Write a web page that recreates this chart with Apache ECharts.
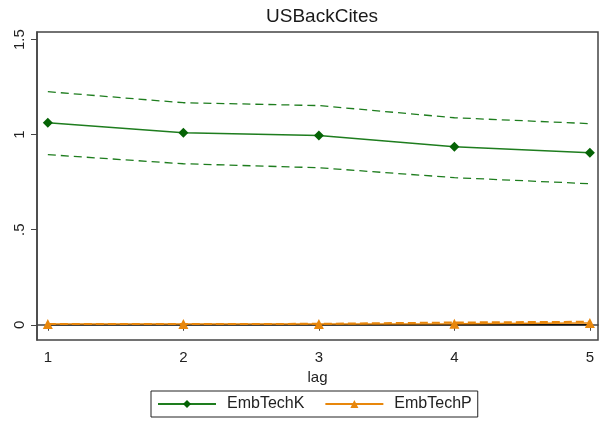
<!DOCTYPE html>
<html>
<head>
<meta charset="utf-8">
<script src="https://cdn.jsdelivr.net/npm/echarts@6/dist/echarts.min.js"></script>
<style>
  html, body { margin: 0; padding: 0; background: #fff; }
  #chart { width: 605px; height: 426px; }
</style>
</head>
<body>
<div id="chart"></div>
<script>
// Lags on the x axis
const lags = [1, 2, 3, 4, 5];

// EmbTechK estimate with its confidence band
const embTechK = [1.063, 1.010, 0.995, 0.937, 0.905];
const embTechKUpper = [1.226, 1.168, 1.153, 1.089, 1.058];
const embTechKLower = [0.895, 0.847, 0.826, 0.774, 0.742];

// EmbTechP estimate with its upper band
const embTechP = [0.004, 0.004, 0.004, 0.005, 0.010];
const embTechPUpper = [0.004, 0.004, 0.005, 0.012, 0.016];

// Reference line at zero
const zeroLine = [0, 0, 0, 0, 0];

// Tick labels
const yTicks = [0, 0.5, 1, 1.5];
const yTickLabels = ['0', '.5', '1', '1.5'];

const pair = arr => lags.map((x, i) => [x, arr[i]]);

const green = '#1e7d1e';
const greenDark = '#056305';
const orange = '#e8870c';
const font = 'Liberation Sans, Arial, sans-serif';

const chart = echarts.init(document.getElementById('chart'), null, { renderer: 'canvas' });
chart.setOption({
  animation: false,
  backgroundColor: '#fff',
  title: {
    text: 'USBackCites',
    left: 317, top: 2,
    textAlign: 'center',
    textStyle: { fontFamily: font, fontSize: 19, fontWeight: 'normal', color: '#1a1a1a' }
  },
  grid: {
    left: 37, right: 7, top: 32, bottom: 86,
    show: true, borderColor: '#444', borderWidth: 1.5, backgroundColor: '#fff'
  },
  legend: {
    left: 151, top: 391,
    data: ['EmbTechK', 'EmbTechP'],
    itemWidth: 58, itemHeight: 10, itemGap: 20,
    padding: [5, 6, 5, 6],
    borderColor: '#222', borderWidth: 1,
    textStyle: { fontFamily: font, fontSize: 16, color: '#222', padding: [0, 0, 0, 6] }
  },
  xAxis: {
    type: 'value', min: 0.92, max: 5.06,
    name: 'lag', nameLocation: 'middle', nameGap: 27,
    nameTextStyle: { fontFamily: font, fontSize: 15, color: '#222' },
    axisLine: { show: true, lineStyle: { color: '#444', width: 1.5 } },
    axisTick: { show: true, customValues: lags, length: 6, lineStyle: { color: '#444' } },
    axisLabel: { customValues: lags, fontFamily: font, fontSize: 15, color: '#222', margin: 10 },
    splitLine: { show: false }
  },
  yAxis: {
    type: 'value', min: -0.08, max: 1.54,
    axisLine: { show: true, lineStyle: { color: '#444', width: 1.5 } },
    axisTick: { show: true, customValues: yTicks, length: 6, lineStyle: { color: '#444' } },
    axisLabel: {
      customValues: yTicks, rotate: 90, fontFamily: font, fontSize: 15, color: '#222', margin: 10,
      formatter: v => yTickLabels[yTicks.indexOf(v)] ?? ''
    },
    splitLine: { show: false }
  },
  series: [
    {
      name: 'zero', type: 'line', data: pair(zeroLine), symbol: 'none', silent: true,
      lineStyle: { color: '#111', width: 1.5 }, z: 1
    },
    {
      name: 'EmbTechKUpper', type: 'line', data: pair(embTechKUpper), symbol: 'none', silent: true,
      lineStyle: { color: green, width: 1.3, type: [8, 5] }
    },
    {
      name: 'EmbTechKLower', type: 'line', data: pair(embTechKLower), symbol: 'none', silent: true,
      lineStyle: { color: green, width: 1.3, type: [8, 5] }
    },
    {
      name: 'EmbTechPUpper', type: 'line', data: pair(embTechPUpper), symbol: 'none', silent: true,
      lineStyle: { color: orange, width: 2, type: [8, 4] }, z: 3
    },
    {
      name: 'EmbTechK', type: 'line', data: pair(embTechK),
      symbol: 'diamond', symbolSize: 10,
      itemStyle: { color: greenDark },
      lineStyle: { color: green, width: 1.5 }, z: 4
    },
    {
      name: 'EmbTechP', type: 'line', data: pair(embTechP),
      symbol: 'triangle', symbolSize: 10,
      itemStyle: { color: orange },
      lineStyle: { color: orange, width: 1.5 }, z: 4
    }
  ]
});
</script>
</body>
</html>
